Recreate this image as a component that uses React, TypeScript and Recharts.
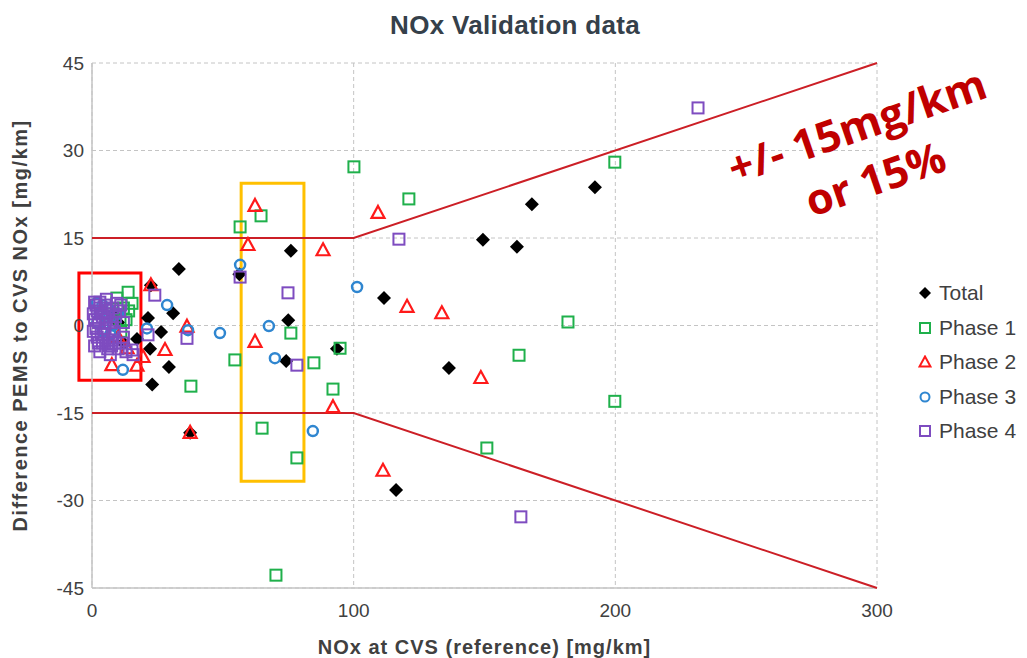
import { CartesianGrid, ReferenceArea, Scatter, ScatterChart, XAxis, YAxis } from 'recharts';

// values: [x = NOx at CVS, y = difference]
const totalPts: [number, number][] = [
  [8, 2], [10, 0.5], [12, -3], [17.2, -2.3], [21.4, 1.3], [22.5, 6.9], [22.2, -4], [23, -10.1],
  [26.4, -1.1], [29.4, -7.1], [31, 2.1], [33.2, 9.7], [37.5, -18.4], [56.3, 8.8], [74.2, -6.1],
  [75, 0.9], [76, 12.8], [93.6, -4], [111.6, 4.7], [116.2, -28.2], [136.4, -7.3], [149.4, 14.7],
  [162.4, 13.5], [168.1, 20.8], [192.2, 23.7],
];
const phase1Pts: [number, number][] = [
  [8, 2], [9.5, 4.7], [10.7, 0.9], [11, -1], [12, 3], [13, 1], [13.8, 5.7], [14, 2.5], [15.3, 3.8],
  [37.8, -10.4], [54.6, -5.9], [56.6, 16.9], [64.6, 18.8], [65, -17.6], [70.3, -42.8], [76, -1.3],
  [78.3, -22.7], [84.8, -6.4], [92.1, -10.9], [94.8, -3.9], [100.1, 27.2], [121.1, 21.7],
  [150.9, -21], [163.2, -5.1], [181.9, 0.6], [199.8, 28], [199.8, -13],
];
const phase2Pts: [number, number][] = [
  [5, 2], [7.6, -6.8], [10, -2], [13.4, -3.9], [17.2, -6.9], [19.5, -5.4], [22.5, 6.9], [27.9, -4.2],
  [36.3, -0.2], [37.5, -18.4], [59.6, 13.8], [62.3, 20.5], [62.3, -2.8], [88.3, 12.9], [92.1, -14],
  [109.3, 19.3], [111.2, -24.9], [120.4, 3.2], [133.7, 2.1], [148.6, -9],
];
const phase3Pts: [number, number][] = [
  [1.9, 3.9], [2, 0.5], [3, 2], [4, -1], [4, 3.5], [5, 1.5], [6, 3], [7, -1.5], [8, 0], [10, 2],
  [11.8, -7.6], [21, -0.5], [28.7, 3.5], [36.7, -0.8], [48.9, -1.3], [56.6, 10.4], [67.6, -0.1],
  [69.9, -5.6], [84.4, -18.1], [101.3, 6.6],
];
const phase4Pts: [number, number][] = [
  [0.5, 2], [0.5, -1], [1, 1], [1, 4], [1, -3.5], [1.5, -0.5], [1.5, 3.5], [2, 2.5], [2, -2],
  [2.5, 0.5], [2.5, -3], [3, 3], [3, 4], [3, -4.5], [3.5, -1.5], [3.5, 2], [4, 1.5], [4, -3],
  [4.5, -1.5], [5, 3.5], [5, -0.5], [5.5, 1], [5.5, 4.5], [6, 2], [6, -2.5], [6, -4], [6.5, -3.5],
  [7, 0.5], [7, -5], [7.5, -3.5], [8, 3], [8, -2.5], [8.5, -1], [9, 1.5], [9, -3], [9.5, 3.8],
  [10, -4], [10.5, 2.5], [11, 3.5], [11.5, -3], [12, -2], [12, 0.5], [13, -4.5], [15.3, -4.2],
  [15.7, -5], [21.4, -1.6], [24, 5.2], [36.3, -2.2], [56.6, 8.3], [74.9, 5.6], [78.3, -6.8],
  [117.3, 14.8], [163.9, -32.8], [231.6, 37.3],
];

// +/- 15 mg/km or 15% band
const boundX = [0, 100, 300];
const upperY = [15, 15, 45];
const lowerY = [-15, -15, -45];

const xTicks = [0, 100, 200, 300];
const yTicks = [-45, -30, -15, 0, 15, 30, 45];

const toXY = (pts: [number, number][]) => pts.map(([x, y]) => ({ x, y }));
const band = (ys: number[]) => boundX.map((x, i) => ({ x, y: ys[i] }));

const FONT = '"Liberation Sans", Arial, sans-serif';
const TEXT = '#404040';

const GREEN = '#1fb04b';
const RED = '#ff1a1a';
const BLUE = '#2f86d0';
const PURPLE = '#7e4cc0';

const Diamond = ({ cx, cy }: any) => (
  <polygon points={`${cx},${cy - 7} ${cx + 7},${cy} ${cx},${cy + 7} ${cx - 7},${cy}`} fill="#000" />
);
const Square = (color: string) => ({ cx, cy }: any) => (
  <rect x={cx - 5.5} y={cy - 5.5} width={11} height={11} fill="none" stroke={color} strokeWidth={2} />
);
const Triangle = ({ cx, cy }: any) => (
  <polygon
    points={`${cx},${cy - 7} ${cx + 6.5},${cy + 5} ${cx - 6.5},${cy + 5}`}
    fill="none"
    stroke={RED}
    strokeWidth={2.2}
  />
);
const Circle = ({ cx, cy }: any) => <circle cx={cx} cy={cy} r={5} fill="none" stroke={BLUE} strokeWidth={2.5} />;
const NoDot = () => <g />;

const legendItems = [
  { name: 'Total', marker: <polygon points="7,1 13,7 7,13 1,7" fill="#000" /> },
  { name: 'Phase 1', marker: <rect x={2} y={2} width={10} height={10} fill="none" stroke={GREEN} strokeWidth={2} /> },
  { name: 'Phase 2', marker: <polygon points="7,1.5 12.5,11.5 1.5,11.5" fill="none" stroke={RED} strokeWidth={2} /> },
  { name: 'Phase 3', marker: <circle cx={7} cy={7} r={4.5} fill="none" stroke={BLUE} strokeWidth={2} /> },
  { name: 'Phase 4', marker: <rect x={2} y={2} width={10} height={10} fill="none" stroke={PURPLE} strokeWidth={2} /> },
];

export default function App() {
  return (
    <div style={{ position: 'absolute', left: 0, top: 0, width: 1027, height: 658, background: '#fff', fontFamily: FONT }}>
      <div
        style={{
          position: 'absolute',
          left: 0,
          width: 1030,
          top: 10,
          textAlign: 'center',
          fontSize: 26,
          fontWeight: 700,
          color: '#35404a',
          letterSpacing: 0.3,
        }}
      >
        NOx Validation data
      </div>

      <ScatterChart width={1027} height={658} margin={{ top: 63, right: 150, bottom: 0, left: 8 }}>
        <CartesianGrid stroke="#c4c4c4" strokeDasharray="4 3" />
        <XAxis
          type="number"
          dataKey="x"
          domain={[0, 300]}
          ticks={xTicks}
          height={70}
          tickLine={false}
          tickMargin={10}
          axisLine={{ stroke: '#c4c4c4', strokeWidth: 1.5 }}
          tick={{ fontSize: 19, fill: TEXT, fontFamily: FONT }}
          label={{
            value: 'NOx at CVS (reference) [mg/km]',
            position: 'insideBottom',
            offset: 4,
            style: { fontSize: 20, fontWeight: 700, fill: TEXT, fontFamily: FONT, letterSpacing: 1 },
          }}
        />
        <YAxis
          type="number"
          dataKey="y"
          domain={[-45, 45]}
          ticks={yTicks}
          width={84}
          tickLine={false}
          axisLine={{ stroke: '#c4c4c4', strokeWidth: 1.5 }}
          tick={{ fontSize: 19, fill: TEXT, fontFamily: FONT }}
          label={{
            value: 'Difference PEMS to CVS NOx [mg/km]',
            angle: -90,
            position: 'insideLeft',
            offset: 12,
            style: { fontSize: 20, fontWeight: 700, fill: TEXT, fontFamily: FONT, textAnchor: 'middle', letterSpacing: 1.5 },
          }}
        />

        <Scatter data={band(upperY)} line={{ stroke: '#cc1f26', strokeWidth: 2 }} shape={NoDot} isAnimationActive={false} legendType="none" />
        <Scatter data={band(lowerY)} line={{ stroke: '#cc1f26', strokeWidth: 2 }} shape={NoDot} isAnimationActive={false} legendType="none" />

        <Scatter name="Total" data={toXY(totalPts)} shape={Diamond} isAnimationActive={false} />
        <Scatter name="Phase 1" data={toXY(phase1Pts)} shape={Square(GREEN)} isAnimationActive={false} />
        <Scatter name="Phase 2" data={toXY(phase2Pts)} shape={Triangle} isAnimationActive={false} />
        <Scatter name="Phase 3" data={toXY(phase3Pts)} shape={Circle} isAnimationActive={false} />
        <Scatter name="Phase 4" data={toXY(phase4Pts)} shape={Square(PURPLE)} isAnimationActive={false} />

        <ReferenceArea x1={-5} x2={18.7} y1={-9.4} y2={9} fill="none" stroke="#ff0000" strokeWidth={3} ifOverflow="visible" />
        <ReferenceArea x1={57} x2={81} y1={-26.7} y2={24.4} fill="none" stroke="#ffc000" strokeWidth={3} ifOverflow="visible" />
      </ScatterChart>

      <div
        style={{
          position: 'absolute',
          left: 866,
          top: 152,
          transform: 'translate(-50%, -50%) rotate(-19deg)',
          color: '#c00000',
          fontFamily: '"Open Sans", sans-serif',
          fontWeight: 700,
          fontSize: 43,
          lineHeight: '56px',
          textAlign: 'center',
          whiteSpace: 'nowrap',
        }}
      >
        +/- 15mg/km
        <br />
        or 15%
      </div>

      <div style={{ position: 'absolute', left: 918, top: 276 }}>
        {legendItems.map((item) => (
          <div key={item.name} style={{ display: 'flex', alignItems: 'center', height: 34.5 }}>
            <svg width={14} height={14} style={{ marginRight: 7 }}>
              {item.marker}
            </svg>
            <span style={{ fontSize: 21, color: TEXT }}>{item.name}</span>
          </div>
        ))}
      </div>
    </div>
  );
}
